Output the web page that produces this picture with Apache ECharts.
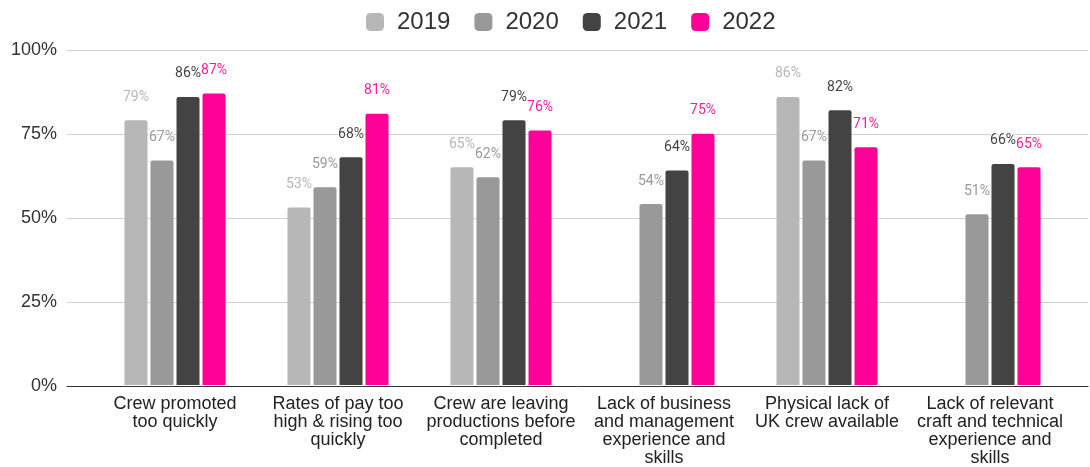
<!DOCTYPE html>
<html>
<head>
<meta charset="utf-8">
<script src="https://cdn.jsdelivr.net/npm/echarts@6/dist/echarts.min.js"></script>
<style>
  html, body { margin: 0; padding: 0; background: #fff; }
  #chart { width: 1090px; height: 467px; }
</style>
</head>
<body>
<div id="chart"></div>
<script>
// Reasons cited for crew shortages, share of respondents by survey year
const categories = [
  'Crew promoted\ntoo quickly',
  'Rates of pay too\nhigh & rising too\nquickly',
  'Crew are leaving\nproductions before\ncompleted',
  'Lack of business\nand management\nexperience and\nskills',
  'Physical lack of\nUK crew available',
  'Lack of relevant\ncraft and technical\nexperience and\nskills'
];
const years = ['2019', '2020', '2021', '2022'];
const values2019 = [79, 53, 65, null, 86, null];
const values2020 = [67, 59, 62, 54, 67, 51];
const values2021 = [86, 68, 79, 64, 82, 66];
const values2022 = [87, 81, 76, 75, 71, 65];
const yTicks = [0, 25, 50, 75, 100];

const colors = ['#b7b7b7', '#999999', '#434343', '#ff0099'];
const seriesValues = [values2019, values2020, values2021, values2022];

const chart = echarts.init(document.getElementById('chart'));

const series = years.map((y, i) => ({
  name: y,
  type: 'bar',
  xAxisIndex: 1,
  yAxisIndex: 1,
  data: seriesValues[i],
  barGap: '13%',
  barCategoryGap: '38%',
  itemStyle: { color: colors[i], borderRadius: [2, 2, 0, 0] },
  label: {
    show: true,
    position: 'top',
    distance: 16,
    formatter: p => p.value == null ? '' : p.value + '%',
    fontFamily: 'Roboto',
    fontSize: 14,
    color: i === 3 ? '#ff1a9f' : colors[i],
    textBorderColor: '#fff',
    textBorderWidth: 2
  }
}));

chart.setOption({
  animation: false,
  color: colors,
  legend: {
    top: 5,
    left: 361,
    itemWidth: 18,
    itemHeight: 18,
    itemGap: 24,
    icon: 'roundRect',
    textStyle: { fontFamily: 'Liberation Sans', fontSize: 24, color: '#333', padding: [0, 0, 0, 8] },
    data: years
  },
  grid: [
    { left: 67, right: 2, top: 50, height: 336 },
    { left: 93.5, right: 18.5, top: 50, height: 336 }
  ],
  xAxis: [
    {
      gridIndex: 0,
      type: 'category',
      data: categories,
      axisLine: { show: true, lineStyle: { color: '#333', width: 1 } },
      axisTick: { show: false },
      axisLabel: { show: false }
    },
    {
      gridIndex: 1,
      type: 'category',
      data: categories,
      axisLine: { show: false },
      axisTick: { show: false },
      axisLabel: {
        margin: 10,
        fontFamily: 'Liberation Sans',
        fontSize: 18,
        lineHeight: 18,
        color: '#222',
        interval: 0
      }
    }
  ],
  yAxis: [
    {
      gridIndex: 0,
      type: 'value',
      min: yTicks[0],
      max: yTicks[yTicks.length - 1],
      interval: 25,
      axisLine: { show: false },
      axisTick: { show: false },
      splitLine: { lineStyle: { color: '#d0d0d0', width: 1 } },
      axisLabel: {
        margin: 10,
        fontFamily: 'Liberation Sans',
        fontSize: 18,
        color: '#333',
        formatter: v => v + '%'
      }
    },
    {
      gridIndex: 1,
      type: 'value',
      min: yTicks[0],
      max: yTicks[yTicks.length - 1],
      interval: 25,
      show: false,
      splitLine: { show: false }
    }
  ],
  series: series
});
</script>
</body>
</html>
